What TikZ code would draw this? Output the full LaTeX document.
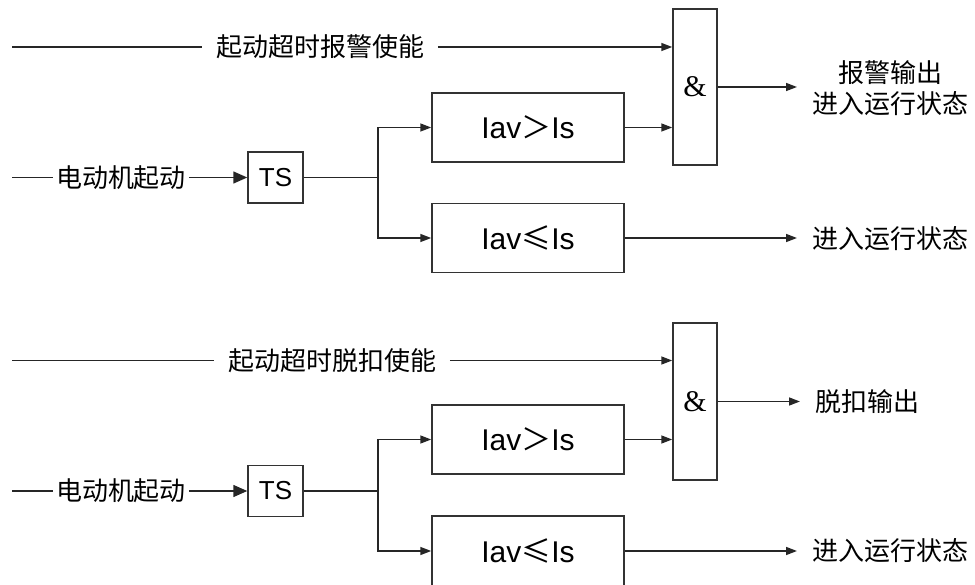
\documentclass[tikz,border=0pt]{standalone}
\usepackage{fontspec}
\setmainfont{Liberation Sans}
\newfontfamily\cjk{Noto Sans CJK SC}
\newfontfamily\serifamp{Liberation Serif}
\usetikzlibrary{arrows.meta}
\begin{document}
\begin{tikzpicture}[x=1pt,y=-1pt,line width=1.5pt,
  cmpbox/.style={draw=black!80,line width=1.5pt,minimum width=192pt,minimum height=69pt,inner sep=0pt,font=\fontsize{30}{36}\selectfont},
  andbox/.style={draw=black!80,line width=1.5pt,minimum width=44pt,minimum height=156pt,inner sep=0pt,font=\serifamp\fontsize{30}{36}\selectfont},
  tsbox/.style={draw=black!80,line width=1.5pt,minimum width=55pt,minimum height=51pt,inner sep=0pt,font=\fontsize{26}{31}\selectfont},
  lbl/.style={inner ysep=2pt,inner xsep=13pt,font=\cjk\fontsize{26}{31}\selectfont},
  inlbl/.style={inner ysep=2pt,inner xsep=2pt,font=\cjk\fontsize{26}{31}\selectfont},
  outlbl/.style={anchor=west,inner ysep=2pt,inner xsep=15pt,align=center,font=\cjk\fontsize{26}{31}\selectfont},
  arr/.style={draw=black!85,-{Triangle[length=11pt,width=8pt]}},
  bigarr/.style={draw=black!85,-{Triangle[length=14pt,width=12pt]}},
  wire/.style={draw=black!85}]
\useasboundingbox (0,0) rectangle (975,585);

% ---------- top section ----------
\node[andbox] (and1) at (695,87) {\&};
\node[cmpbox] (gt1) at (528,127.5) {Iav{\cjk ＞}Is};
\node[cmpbox] (le1) at (528,238) {Iav{\cjk ≤}Is};
\node[tsbox] (ts1) at (275.5,177.5) {TS};
\node[lbl] (en1) at (320,47) {起动超时报警使能};
\node[inlbl] (in1) at (121,177.5) {电动机起动};
\node[outlbl] (o1) at (797,88.5) {报警输出\\进入运行状态};
\node[outlbl] (o2) at (797,239) {进入运行状态};
\coordinate (en1s) at (12,47);
\coordinate (in1s) at (12,177.5);
\coordinate (br1) at (378,177.5);

\draw[wire] (en1s) -- (en1.west);
\draw[arr] (en1.east) -- (en1.east -| and1.west);
\draw[wire] (in1s) -- (in1.west);
\draw[bigarr] (in1.east) -- (ts1.west);
\draw[wire] (ts1.east) -- (br1);
\draw[arr] (br1) |- (gt1.west);
\draw[arr] (br1) |- (le1.west);
\draw[arr] (gt1.east) -- (gt1.east -| and1.west);
\draw[arr] (and1.east) -- (and1.east -| o1.west);
\draw[arr] (le1.east) -- (le1.east -| o2.west);

% ---------- bottom section ----------
\node[andbox,minimum height=157pt] (and2) at (695,401.5) {\&};
\node[cmpbox] (gt2) at (528,439.5) {Iav{\cjk ＞}Is};
\node[cmpbox,minimum height=70pt] (le2) at (528,551) {Iav{\cjk ≤}Is};
\node[tsbox] (ts2) at (275.5,491) {TS};
\node[lbl] (en2) at (332,360.5) {起动超时脱扣使能};
\node[inlbl] (in2) at (121,491) {电动机起动};
\node[outlbl] (o3) at (800,402) {脱扣输出};
\node[outlbl] (o4) at (797,551) {进入运行状态};
\coordinate (en2s) at (12,360.5);
\coordinate (in2s) at (12,491);
\coordinate (br2) at (378,491);

\draw[wire] (en2s) -- (en2.west);
\draw[arr] (en2.east) -- (en2.east -| and2.west);
\draw[wire] (in2s) -- (in2.west);
\draw[bigarr] (in2.east) -- (ts2.west);
\draw[wire] (ts2.east) -- (br2);
\draw[arr] (br2) |- (gt2.west);
\draw[arr] (br2) |- (le2.west);
\draw[arr] (gt2.east) -- (gt2.east -| and2.west);
\draw[arr] (and2.east) -- (and2.east -| o3.west);
\draw[arr] (le2.east) -- (le2.east -| o4.west);
\end{tikzpicture}
\end{document}
